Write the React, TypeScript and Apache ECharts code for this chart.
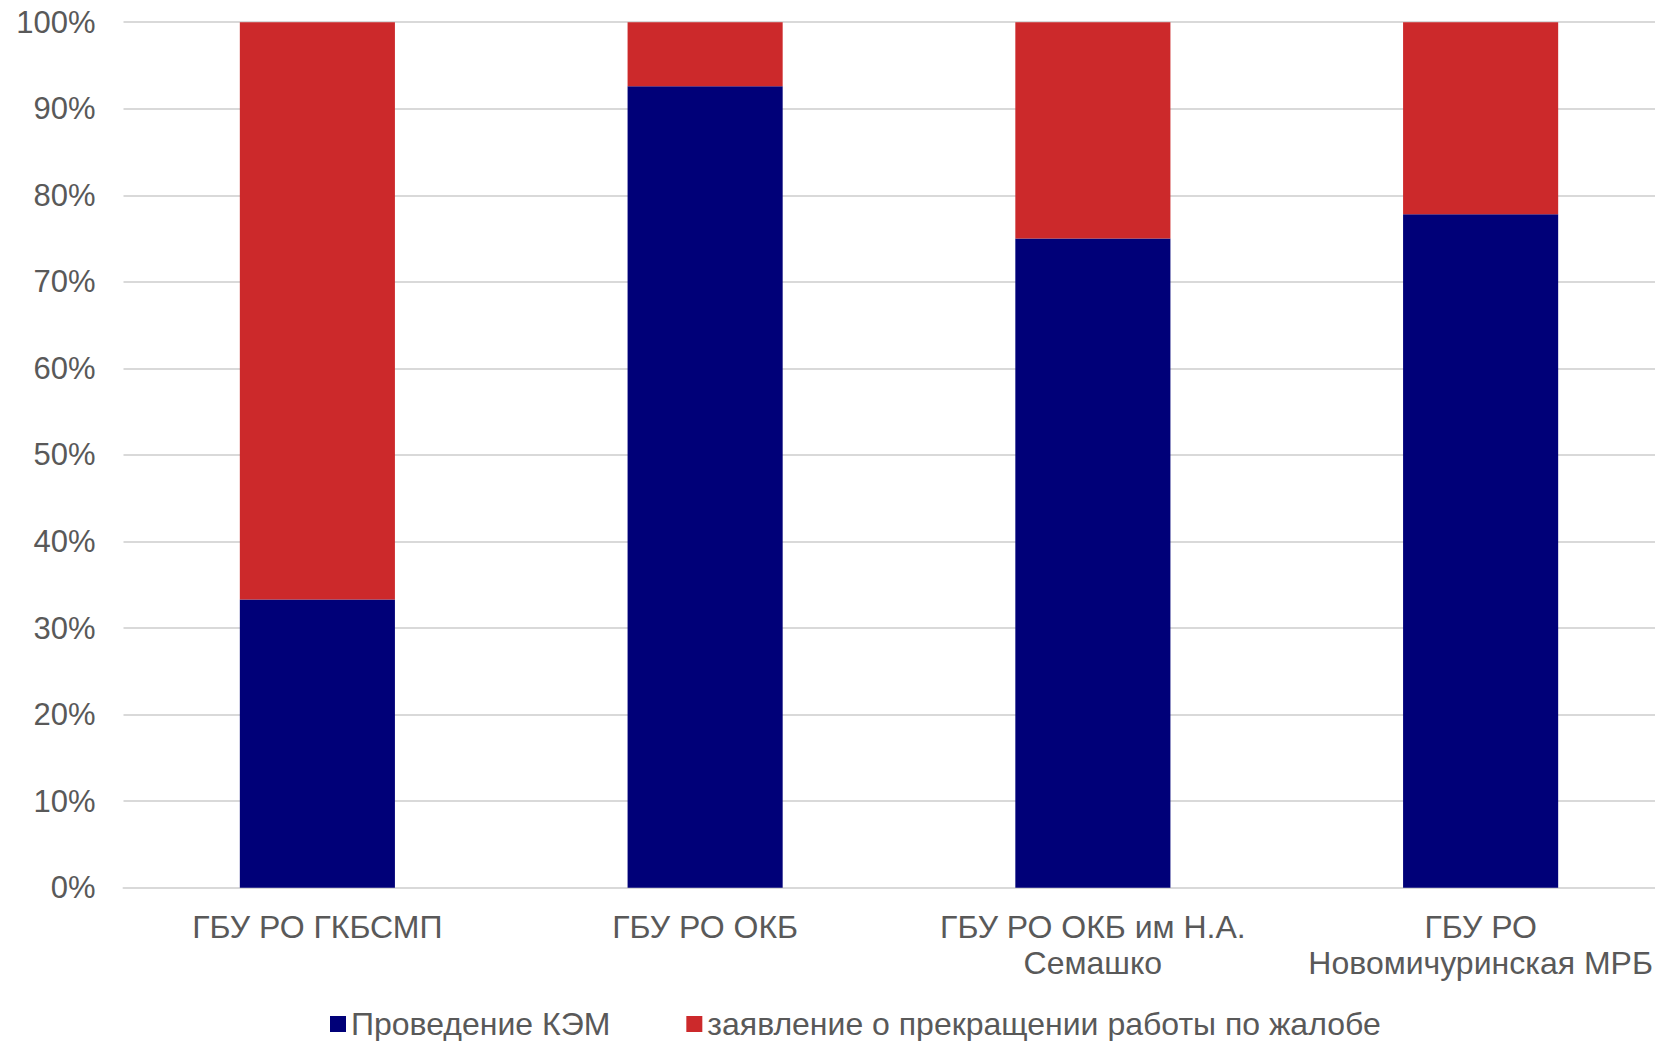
import React, { useEffect, useRef } from "react";
import * as echarts from "echarts";

const categories = [
  "ГБУ РО ГКБСМП",
  "ГБУ РО ОКБ",
  "ГБУ РО ОКБ им Н.А.\nСемашко",
  "ГБУ РО\nНовомичуринская МРБ",
];
const seriesNames = ["Проведение КЭМ", "заявление о прекращении работы по жалобе"];
const kemValues = [33.3, 92.6, 75.0, 77.8];
const stopValues = [66.7, 7.4, 25.0, 22.2];
const yTicks = { min: 0, max: 100, interval: 10 };

const FONT = "'Liberation Sans', Arial, sans-serif";
const TEXT = "#595959";

export default function App() {
  const ref = useRef<HTMLDivElement>(null);
  useEffect(() => {
    if (!ref.current) return;
    const chart = echarts.init(ref.current, undefined, { renderer: "svg" });
    chart.setOption({
      animation: false,
      backgroundColor: "#ffffff",
      textStyle: { fontFamily: FONT },
      grid: { left: 123.5, right: 0.5, top: 22.2, bottom: 153.3, containLabel: false },
      legend: {
        left: 330,
        top: 1008,
        icon: "rect",
        itemWidth: 16,
        itemHeight: 16,
        itemGap: 76,
        padding: 0,
        data: seriesNames,
        textStyle: { fontSize: 32, color: TEXT, fontFamily: FONT },
      },
      xAxis: {
        type: "category",
        data: categories,
        axisLine: { show: true, lineStyle: { color: "#d9d9d9", width: 2 } },
        axisTick: { show: false },
        axisLabel: {
          interval: 0,
          margin: 21,
          fontSize: 32,
          lineHeight: 36,
          color: TEXT,
          fontFamily: FONT,
          align: "center",
        },
      },
      yAxis: {
        type: "value",
        min: yTicks.min,
        max: yTicks.max,
        interval: yTicks.interval,
        axisLine: { show: false },
        axisTick: { show: false },
        splitLine: { show: true, lineStyle: { color: "#d9d9d9", width: 2 } },
        axisLabel: {
          formatter: "{value}%",
          fontSize: 31,
          margin: 28,
          color: TEXT,
          fontFamily: FONT,
        },
      },
      series: [
        {
          name: seriesNames[0],
          type: "bar",
          stack: "total",
          barWidth: "40%",
          data: kemValues,
          itemStyle: { color: "#000078" },
        },
        {
          name: seriesNames[1],
          type: "bar",
          stack: "total",
          barWidth: "40%",
          data: stopValues,
          itemStyle: { color: "#CC292B" },
        },
      ],
    });
    return () => chart.dispose();
  }, []);
  return (
    <div
      ref={ref}
      style={{ position: "fixed", left: 0, top: 0, width: 1675, height: 1041 }}
    />
  );
}
